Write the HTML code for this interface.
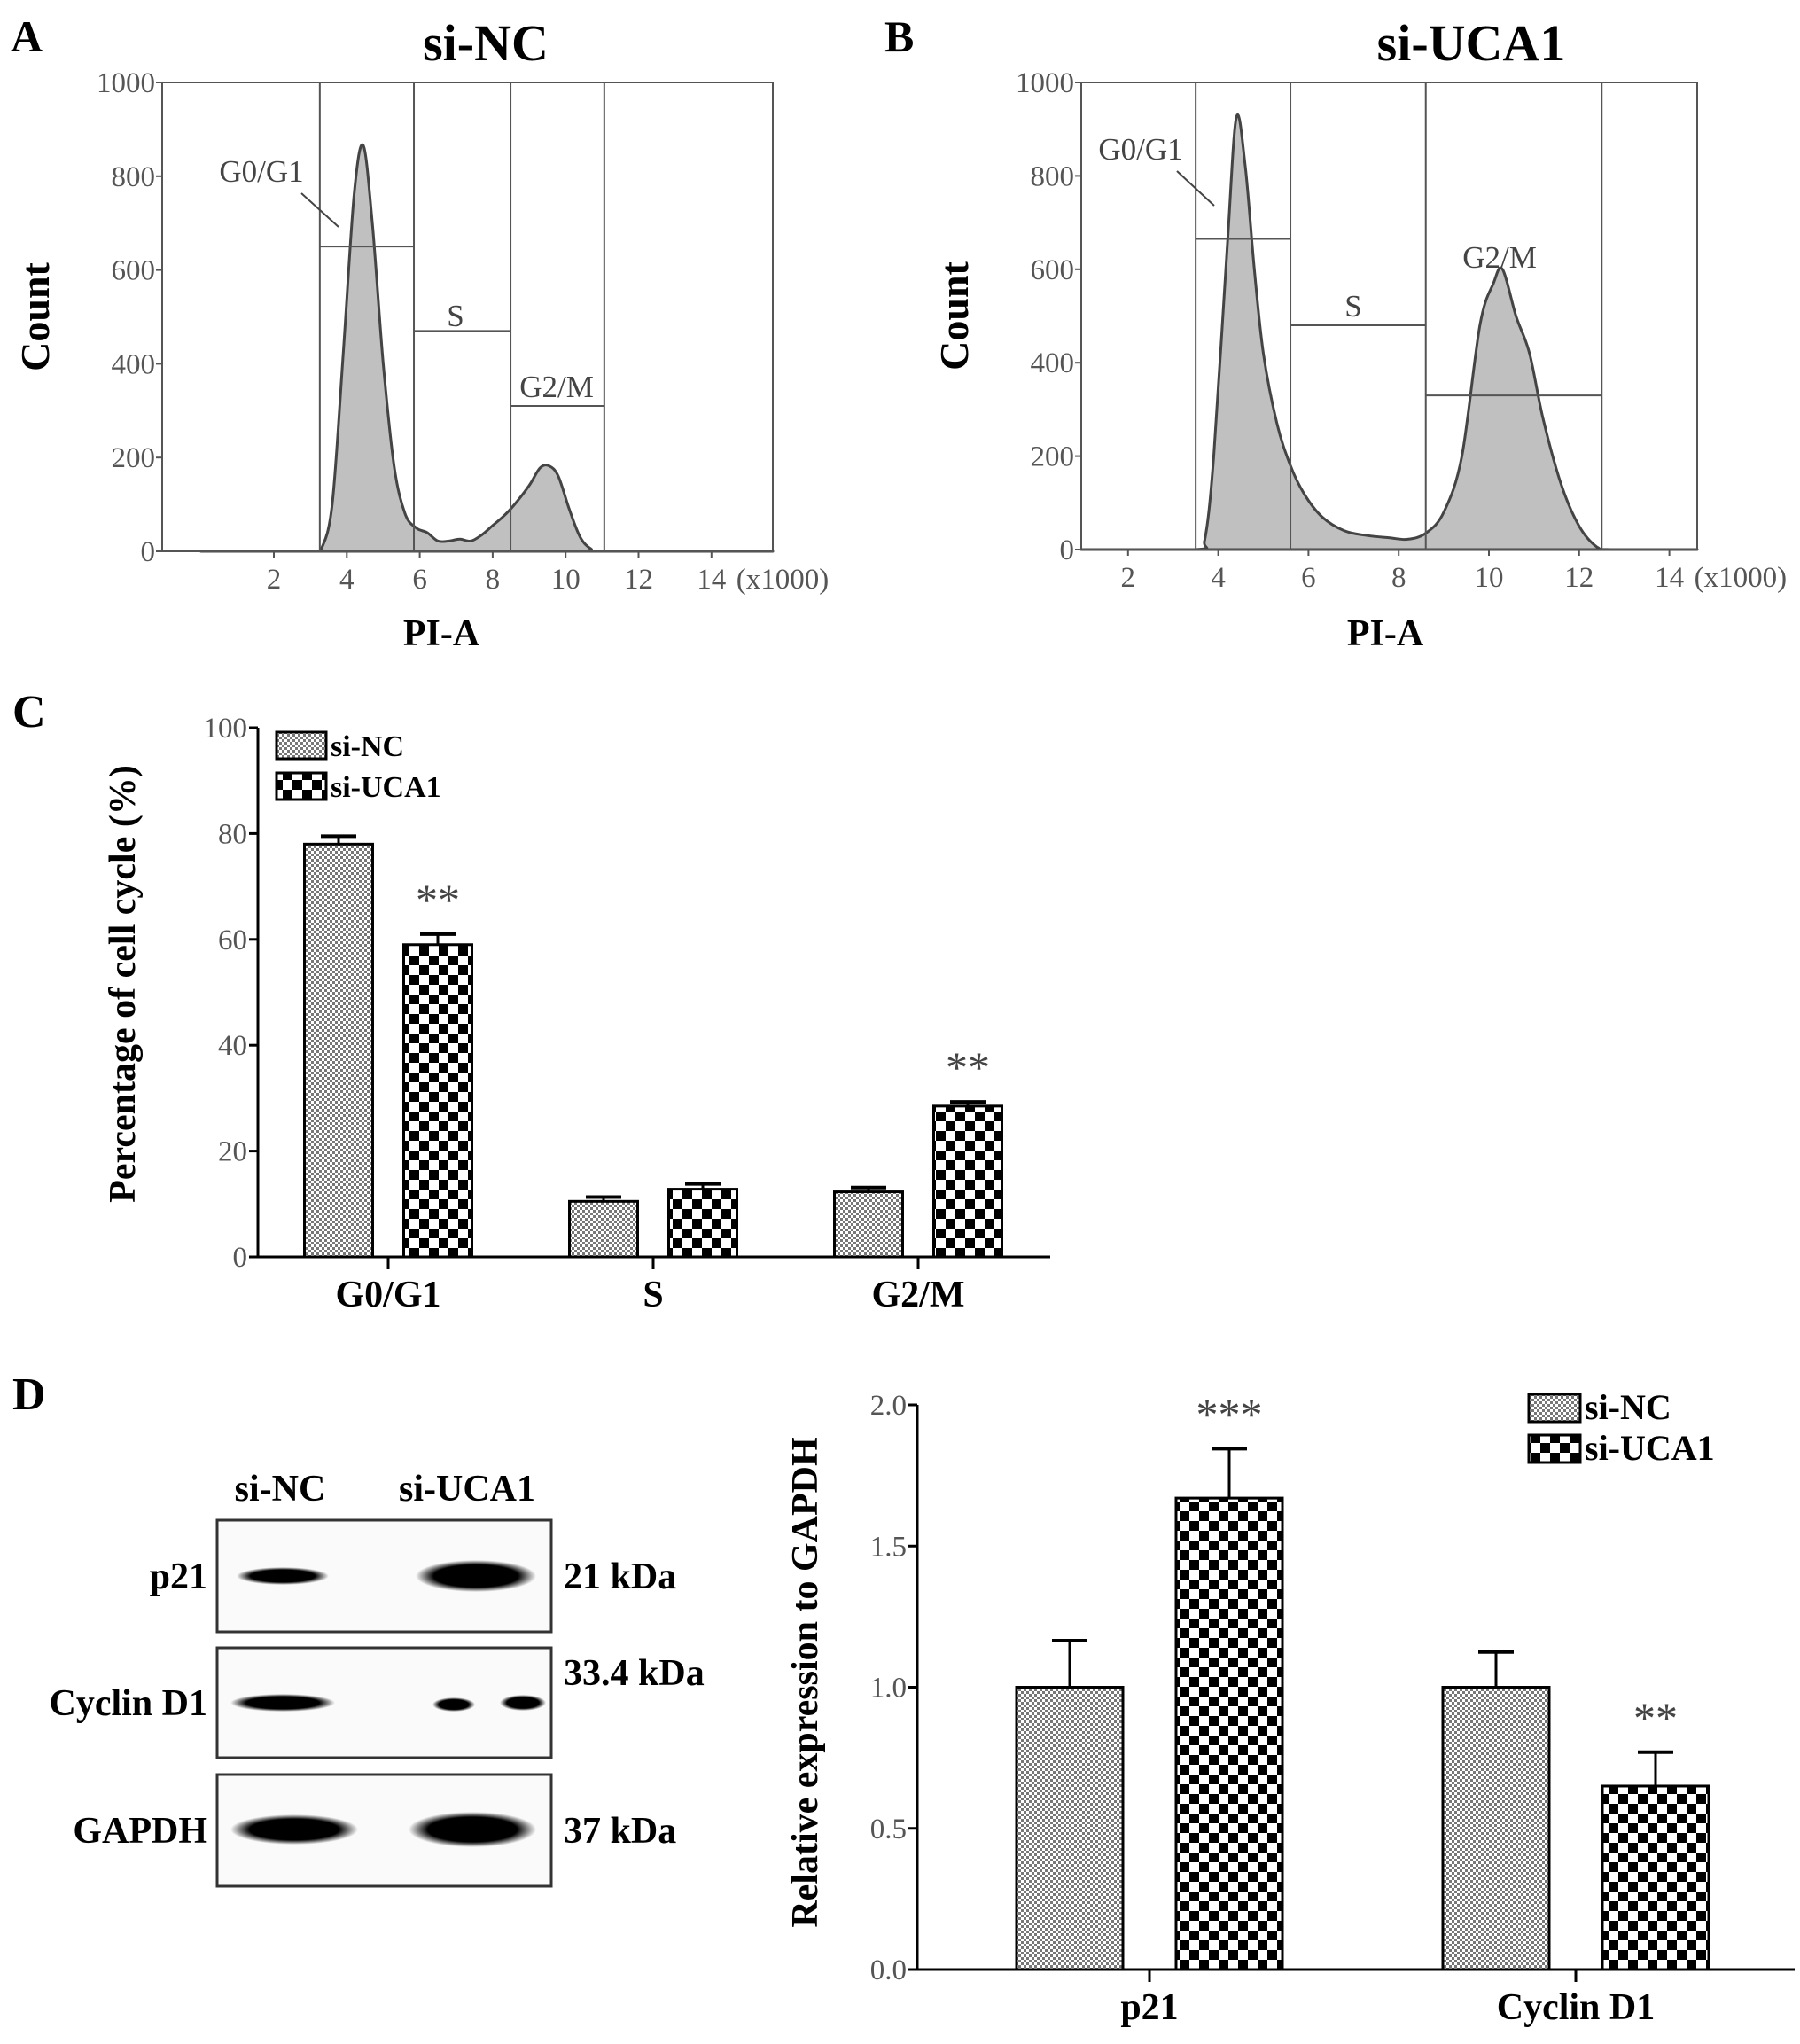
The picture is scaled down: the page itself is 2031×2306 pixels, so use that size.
<!DOCTYPE html>
<html><head><meta charset="utf-8"><style>
body{margin:0;background:#fff}
svg{display:block;font-family:"Liberation Serif",serif}
</style></head><body>
<svg id="fig" width="2031" height="2306" viewBox="0 0 2031 2306" xmlns="http://www.w3.org/2000/svg">
<defs>
<pattern id="pNC" width="6" height="6" patternUnits="userSpaceOnUse">
<rect width="6" height="6" fill="#fff"/><rect width="3" height="3" fill="#777"/><rect x="3" y="3" width="3" height="3" fill="#777"/>
</pattern>
<pattern id="pUCA" width="22" height="22" patternUnits="userSpaceOnUse">
<rect width="22" height="22" fill="#fff"/><rect width="11" height="11" fill="#000"/><rect x="11" y="11" width="11" height="11" fill="#000"/>
</pattern>
<radialGradient id="band"><stop offset="0" stop-color="#000"/><stop offset="0.7" stop-color="#000"/><stop offset="1" stop-color="#000" stop-opacity="0"/></radialGradient>
</defs>
<g id="panelA"></g>
<g id="panelB"></g>
<g id="panelC"></g>
<g id="panelD"></g>
<g id="panelE"></g>
</svg>
<script>
// ---- Panel A / B histogram data (PI-A in thousands, count) ----
const ncPI = [0,3.1,3.3,3.6,3.9,4.2,4.45,4.7,5.0,5.3,5.6,5.9,6.2,6.5,6.8,7.1,7.4,7.7,8.0,8.3,8.6,9.0,9.3,9.55,9.8,10.1,10.4,10.7,11.0,15.5];
const ncCount = [0,0,5,100,420,760,866,700,400,180,80,50,40,22,22,26,22,35,55,75,100,140,178,182,160,90,30,5,0,0];
const ucaPI = [0,3.5,3.7,3.9,4.2,4.4,4.6,4.8,5.0,5.3,5.6,5.9,6.3,6.8,7.3,7.8,8.2,8.6,9.0,9.4,9.8,10.1,10.3,10.6,10.9,11.2,11.6,12.0,12.4,12.7,15.5];
const ucaCount = [0,0,20,200,650,925,820,600,420,270,180,120,70,40,30,25,22,35,80,200,480,570,600,500,420,280,140,50,5,0,0];
const xTicks = [2,4,6,8,10,12,14];
const yTicksA = [0,200,400,600,800,1000];
const ncGates = [3.26,5.84,8.49,11.06];
const ncGateLevels = [650,470,310];
const ucaGates = [3.5,5.6,8.6,12.5];
const ucaGateLevels = [665,480,330];

// ---- Panel C data ----
const cCats = ["G0/G1","S","G2/M"];
const cNC = [78,10.5,12.3];
const cNCerr = [1.5,0.8,0.8];
const cUCA = [59,12.8,28.5];
const cUCAerr = [2,1,0.8];
const cStars = ["**","",  "**"];
const cTicks = [0,20,40,60,80,100];

// ---- Panel D chart data ----
const dCats = ["p21","Cyclin D1"];
const dNC = [1.0,1.0];
const dNCerr = [0.165,0.125];
const dUCA = [1.67,0.65];
const dUCAerr = [0.175,0.12];
const dStars = ["***","**"];
const dTicks = ["0.0","0.5","1.0","1.5","2.0"];

const NS="http://www.w3.org/2000/svg";
function mk(parent,tag,attrs,text){const e=document.createElementNS(NS,tag);for(const k in attrs)e.setAttribute(k,attrs[k]);if(text!==undefined)e.textContent=text;parent.appendChild(e);return e;}

function histogram(g,cfg){
  const {L,R,T,B,x0,pxPer1k,pi,count,gates,levels,title,titleX,letter,letterX,labelG1,labelS,labelG2}=cfg;
  const sx=k=>Math.max(L,Math.min(R,x0+k*pxPer1k)), sy=c=>B-(B-T)*c/1000;
  let l=mk(g,'text',{x:letterX,y:58,'font-size':50,'font-weight':'bold'},letter);
  
  
  let t=mk(g,'text',{x:titleX,y:68,'font-size':58,'font-weight':'bold','text-anchor':'middle'},title);
  
  
  // Catmull-Rom smoothing through data points
  const P=pi.map((k,i)=>[sx(k),sy(count[i])]);
  let d='M'+P[0][0]+','+sy(0)+' L'+P[0][0].toFixed(1)+','+P[0][1].toFixed(1);
  for(let i=0;i<P.length-1;i++){
    const p0=P[Math.max(0,i-1)],p1=P[i],p2=P[i+1],p3=P[Math.min(P.length-1,i+2)];
    const c1=[p1[0]+(p2[0]-p0[0])/6,p1[1]+(p2[1]-p0[1])/6];
    const c2=[p2[0]-(p3[0]-p1[0])/6,p2[1]-(p3[1]-p1[1])/6];
    d+=' C'+c1[0].toFixed(1)+','+Math.min(B,c1[1]).toFixed(1)+' '+c2[0].toFixed(1)+','+Math.min(B,c2[1]).toFixed(1)+' '+p2[0].toFixed(1)+','+p2[1].toFixed(1);
  }
  d+=' L'+R+','+sy(0)+' Z';
  let p=mk(g,'path',{d:d,fill:'#c0c0c0',stroke:'#444','stroke-width':3,'stroke-linejoin':'round'});
  
  
  gates.forEach(k=>{let v=mk(g,'line',{x1:sx(k),x2:sx(k),y1:T,y2:B,stroke:'#555','stroke-width':2});
    
    });
  levels.forEach((c,i)=>{let h=mk(g,'line',{x1:sx(gates[i]),x2:sx(gates[i+1]),y1:sy(c),y2:sy(c),stroke:'#555','stroke-width':2});
    
    });
  let f=mk(g,'rect',{x:L,y:T,width:R-L,height:B-T,fill:'none',stroke:'#555','stroke-width':2});
  
  
  yTicksA.forEach(v=>{mk(g,'line',{x1:L-7,x2:L,y1:sy(v),y2:sy(v),stroke:'#555','stroke-width':2});
    let tl=mk(g,'text',{x:L-8,y:sy(v)+11,'font-size':33,fill:'#555','text-anchor':'end'},v);
    
    });
  xTicks.forEach(v=>{mk(g,'line',{x1:sx(v),x2:sx(v),y1:B,y2:B+7,stroke:'#555','stroke-width':2});
    let tl=mk(g,'text',{x:sx(v),y:B+42,'font-size':33,fill:'#555','text-anchor':'middle'},v);
    
    });
  let u=mk(g,'text',{x:sx(14)+28,y:B+42,'font-size':33,fill:'#555'},'(x1000)');
  
  
  let yl=mk(g,'text',{x:0,y:0,'font-size':46,'font-weight':'bold','text-anchor':'middle',transform:`translate(${L-128},${(T+B)/2}) rotate(-90)`},'Count');
  
  
  let xl=mk(g,'text',{x:cfg.xlabX,y:728,'font-size':42,'font-weight':'bold','text-anchor':'middle'},'PI-A');
  
  
  [[labelG1,'G0/G1'],[labelS,'S'],[labelG2,'G2/M']].forEach(([pos,txt])=>{
    let lt=mk(g,'text',{x:pos[0],y:pos[1],'font-size':35,fill:'#444','text-anchor':'middle'},txt);
    
    });
  mk(g,'line',{x1:cfg.lead[0],y1:cfg.lead[1],x2:cfg.lead[2],y2:cfg.lead[3],stroke:'#444','stroke-width':2});
}
histogram(document.getElementById('panelA'),{L:183,R:872,T:93,B:622,x0:226.7,pxPer1k:41.15,pi:ncPI,count:ncCount,gates:ncGates,levels:ncGateLevels,
  title:'si-NC',titleX:548,letter:'A',letterX:12,labelG1:[295,205],labelS:[514,368],labelG2:[628,448],lead:[340,218,382,256],xlabX:498});
histogram(document.getElementById('panelB'),{L:1220,R:1915,T:93,B:620,x0:1171,pxPer1k:50.9,pi:ucaPI,count:ucaCount,gates:ucaGates,levels:ucaGateLevels,
  title:'si-UCA1',titleX:1660,letter:'B',letterX:998,labelG1:[1287,180],labelS:[1527,357],labelG2:[1692,302],lead:[1328,193,1370,232],xlabX:1563});

function barChart(g,cfg){
  const {L,R,T,B,max,cats,nc,ncE,uca,ucaE,stars,ticks,centers,bw,gap}=cfg;
  const sy=v=>B-(B-T)*v/max;
  mk(g,'line',{x1:L,x2:L,y1:T,y2:B,stroke:'#000','stroke-width':3});
  mk(g,'line',{x1:L,x2:R,y1:B,y2:B,stroke:'#000','stroke-width':3});
  ticks.forEach(tk=>{const v=parseFloat(tk);mk(g,'line',{x1:L-10,x2:L,y1:sy(v),y2:sy(v),stroke:'#000','stroke-width':3});
    let tl=mk(g,'text',{x:L-12,y:sy(v)+11,'font-size':33,fill:'#555','text-anchor':'end'},tk);
    
    });
  cats.forEach((c,i)=>{
    const cx=centers[i];
    mk(g,'line',{x1:cx,x2:cx,y1:B,y2:B+14,stroke:'#000','stroke-width':3});
    let cl=mk(g,'text',{x:cx,y:B+56,'font-size':42,'font-weight':'bold','text-anchor':'middle'},c);
    
    
    [[nc[i],ncE[i],'url(#pNC)',cx-gap/2-bw,'bar-si-nc'],[uca[i],ucaE[i],'url(#pUCA)',cx+gap/2,'bar-si-uca1']].forEach(([v,e,fill,x,name])=>{
      const ye=sy(v+e);
      mk(g,'line',{x1:x+bw/2,x2:x+bw/2,y1:sy(v),y2:ye,stroke:'#000','stroke-width':3});
      mk(g,'line',{x1:x+bw/2-20,x2:x+bw/2+20,y1:ye,y2:ye,stroke:'#000','stroke-width':4});
      let r=mk(g,'rect',{x:x,y:sy(v),width:bw,height:B-sy(v),fill:fill,stroke:'#000','stroke-width':3});
      
      
    });
    if(stars[i]){let s=mk(g,'text',{x:cx+gap/2+bw/2,y:sy(uca[i]+ucaE[i])-cfg.starOff,'font-size':50,fill:'#444','text-anchor':'middle'},stars[i]);
      
      }
  });
  let yl=mk(g,'text',{x:0,y:0,'font-size':42,'font-weight':'bold','text-anchor':'middle',transform:`translate(${cfg.ylX},${cfg.ylY}) rotate(-90)`},cfg.ylabel);
  
  
  const lg=cfg.legend;
  [['url(#pNC)','si-NC'],['url(#pUCA)','si-UCA1']].forEach(([fill,txt],i)=>{
    const y=lg.y+i*lg.dy;
    let r=mk(g,'rect',{x:lg.x,y:y,width:lg.w,height:lg.h,fill:fill,stroke:'#000','stroke-width':3});
    
    
    let t=mk(g,'text',{x:lg.x+lg.w+5,y:y+lg.h-3,'font-size':lg.fs,'font-weight':'bold'},txt);
    
    
  });
}
const gC=document.getElementById('panelC');
let lc=mk(gC,'text',{x:14,y:820,'font-size':52,'font-weight':'bold'},'C');


barChart(gC,{L:291,R:1185,T:821,B:1418,max:100,cats:cCats,nc:cNC,ncE:cNCerr,uca:cUCA,ucaE:cUCAerr,stars:cStars,ticks:cTicks.map(String),
  centers:[438,737,1036],bw:77,gap:35,starOff:22,ylX:152,ylY:1110,ylabel:'Percentage of cell cycle (%)',
  legend:{x:312,y:826,dy:46,w:56,h:30,fs:34}});

const gE=document.getElementById('panelE');
barChart(gE,{L:1035,R:2025,T:1585,B:2222,max:2,cats:dCats,nc:dNC,ncE:dNCerr,uca:dUCA,ucaE:dUCAerr,stars:dStars,ticks:dTicks,
  centers:[1297,1778],bw:120,gap:60,starOff:22,ylX:922,ylY:1898,ylabel:'Relative expression to GAPDH',
  legend:{x:1725,y:1573,dy:46,w:58,h:31,fs:40}});

const gD=document.getElementById('panelD');
let ld=mk(gD,'text',{x:14,y:1590,'font-size':52,'font-weight':'bold'},'D');


[['si-NC',316],['si-UCA1',527]].forEach(([t,x])=>{let e=mk(gD,'text',{x:x,y:1693,'font-size':42,'font-weight':'bold','text-anchor':'middle'},t);
  
  });
const blotRows=[['p21','21 kDa',1715,1841],['Cyclin D1','33.4 kDa',1859,1983],['GAPDH','37 kDa',2002,2128]];
const bands=[[[319,1778,52,10],[537,1778,68,18]],[[319,1921,59,10],[512,1923,24,8],[590,1921,26,9]],[[332,2064,72,17],[533,2064,72,20]]];
blotRows.forEach(([name,kda,y1,y2],i)=>{
  let r=mk(gD,'rect',{x:245,y:y1,width:377,height:y2-y1,fill:'#fafafa',stroke:'#333','stroke-width':3});
  
  
  let l=mk(gD,'text',{x:234,y:(y1+y2)/2+14,'font-size':42,'font-weight':'bold','text-anchor':'end'},name);
  
  
  let k=mk(gD,'text',{x:636,y:(i==1?y1+42:(y1+y2)/2+14),'font-size':42,'font-weight':'bold'},kda);
  
  
  bands[i].forEach(([cx,cy,rx,ry])=>{let b=mk(gD,'ellipse',{cx:cx,cy:cy,rx:rx,ry:ry,fill:'url(#band)'});
    
    });
});
</script>
</body></html>
